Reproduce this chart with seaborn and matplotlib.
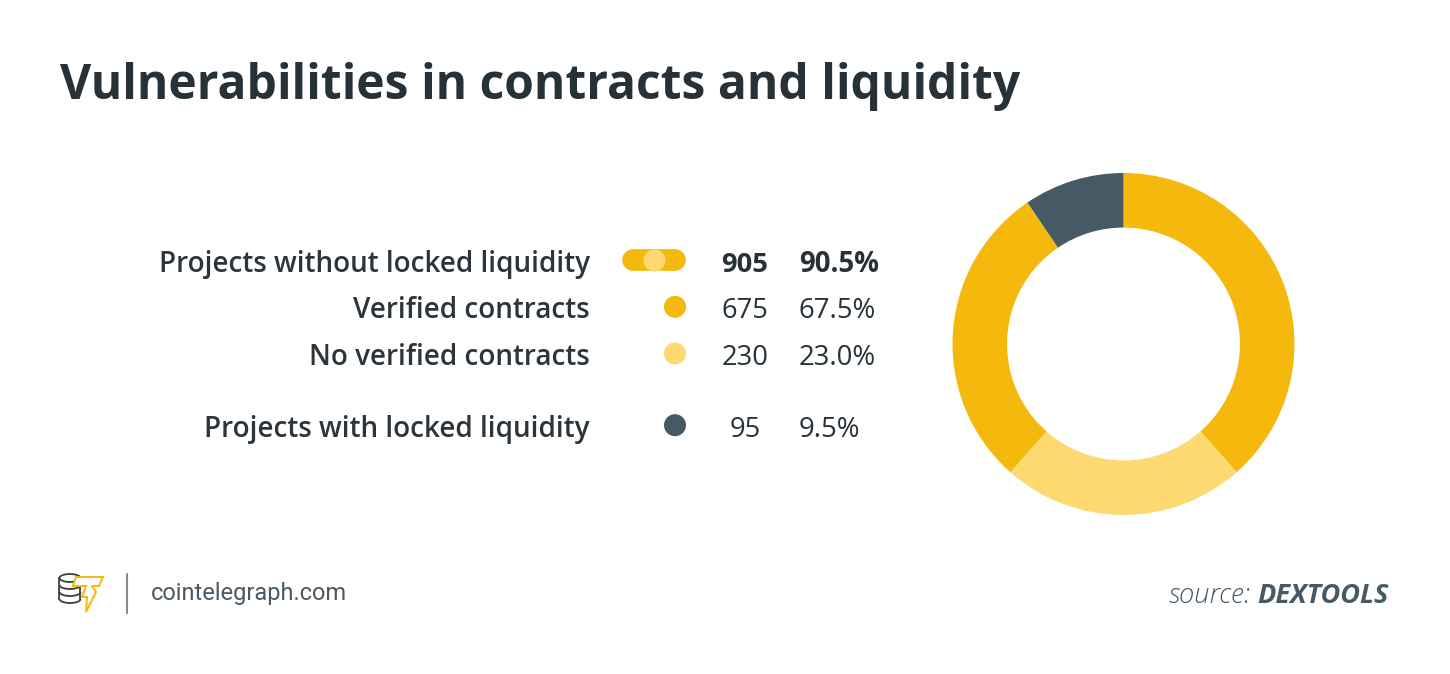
import matplotlib
matplotlib.use("Agg")
import matplotlib.pyplot as plt
import seaborn as sns
from matplotlib.patches import Ellipse, Arc, Polygon

sns.set_theme(style="white")
plt.rcParams['font.family'] = ['Open Sans', 'DejaVu Sans']

# data
labels = ["Projects without locked liquidity", "Verified contracts",
          "No verified contracts", "Projects with locked liquidity"]
counts = [905, 675, 230, 95]
shares = ["90.5%", "67.5%", "23.0%", "9.5%"]

YELLOW = "#f4b90c"
LIGHT = "#fed870"
SLATE = "#465a65"
TEXT = "#263238"

fig = plt.figure(figsize=(14.5, 6.74), dpi=100)
ax = fig.add_axes([0, 0, 1, 1])
ax.set_xlim(0, 1450)
ax.set_ylim(674, 0)
ax.axis("off")

# title
ax.text(60, 99, "Vulnerabilities in contracts and liquidity", fontsize=34.6,
        fontweight="bold", color=TEXT, ha="left", va="baseline")

# legend rows
baselines = [271.7, 318.3, 365, 436.7]
for i, (lab, n, s) in enumerate(zip(labels, counts, shares)):
    b = baselines[i]
    w = "bold" if i == 0 else "normal"
    ax.text(590, b, lab, fontsize=20.1, color="#2b353b", ha="right", va="baseline",
            fontweight="semibold")
    ax.text(745, b, str(n), fontsize=19.7, color=TEXT, ha="center", va="baseline", fontweight=w)
    ax.text(799, b, s, fontsize=19.8, color=TEXT, ha="left", va="baseline", fontweight=w)

mark_y = [b - 11.5 for b in baselines]
# pill marker for the first row
ax.plot([633.5, 675.5], [mark_y[0], mark_y[0]], color=YELLOW, lw=15.6,
        solid_capstyle="round")
ax.scatter([654], [mark_y[0]], s=251, color=LIGHT, linewidths=0, zorder=3)
ax.scatter([675, 675, 675], mark_y[1:], s=251, color=[YELLOW, LIGHT, SLATE],
           linewidths=0, zorder=3)

# donut
dax = fig.add_axes([952.5 / 1450, 159 / 674, 342 / 1450, 342 / 674])
total = counts[0] + counts[3]
first = total / 2 - counts[2] / 2
wedges = [first, counts[2], counts[1] - first, counts[3]]
dax.pie(wedges, colors=[YELLOW, LIGHT, YELLOW, SLATE], startangle=90,
        counterclock=False, radius=1, wedgeprops=dict(width=0.319, linewidth=0))
dax.set_xlim(-1, 1)
dax.set_ylim(-1, 1)
dax.set_aspect("auto")
dax.axis("off")

# footer logo
gray = "#3a3f44"
for cy in [585, 592, 599]:
    ax.add_patch(Arc((70, cy), 21, 8, theta1=0, theta2=180, color=gray, lw=1.3))
ax.add_patch(Ellipse((70, 578), 21, 8, fill=False, color=gray, lw=1.3))
ax.plot([59.5, 59.5], [578, 599], color=gray, lw=1.3)
ax.plot([80.5, 80.5], [578, 599], color=gray, lw=1.3)
bolt = [(76, 577), (103, 577), (99, 586), (92, 586), (96, 592), (86, 612),
        (87, 597), (82, 597), (86, 586), (73, 586)]
ax.add_patch(Polygon(bolt, closed=True, facecolor="white", edgecolor=YELLOW,
                     lw=1.4, zorder=4))
ax.plot([127, 127], [574, 613], color="#8a8a8a", lw=1.5)
ax.text(151, 600, "cointelegraph.com", fontsize=17, family=["Roboto", "DejaVu Sans"],
        color="#4a5963", ha="left", va="baseline")

# source
t = ax.text(1389, 603, "DEXTOOLS", fontsize=19.5, fontweight="bold", style="italic",
            color=SLATE, ha="right", va="baseline")
fig.canvas.draw()
bb = t.get_window_extent()
x0 = ax.transData.inverted().transform((bb.x0, bb.y0))[0]
ax.text(x0 - 7, 603, "source:", fontsize=19.8, style="italic", fontweight="light",
        color=SLATE, ha="right", va="baseline")
fig.savefig("out.png", dpi=100, facecolor="white")
